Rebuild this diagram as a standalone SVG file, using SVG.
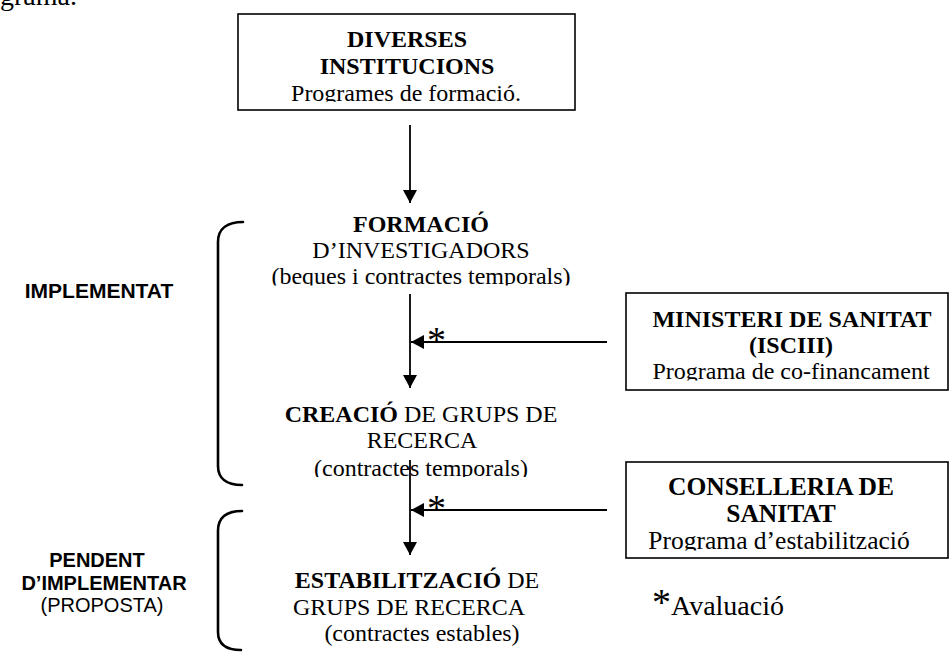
<svg xmlns="http://www.w3.org/2000/svg" width="951" height="652" viewBox="0 0 951 652">
<style>
.t{font-family:"Liberation Serif","Times New Roman",serif;font-size:24px;fill:#000;text-anchor:middle}
.b{font-weight:bold}
.s{font-family:"Liberation Sans",Arial,sans-serif;font-size:20px;fill:#000;text-anchor:middle}
.box{fill:#fff;stroke:#000;stroke-width:1.6}
.ln{stroke:#000;stroke-width:1.8;fill:none}
.br{stroke:#000;stroke-width:2.6;fill:none;stroke-linecap:round}
.ast{font-family:"Liberation Serif","Times New Roman",serif;font-size:38px;fill:#000}
</style>
<defs>
<marker id="ah" markerUnits="userSpaceOnUse" markerWidth="14" markerHeight="14" viewBox="0 0 14 14" refX="13" refY="7" orient="auto">
<path d="M0,0 L13,7 L0,14 Z" fill="#000"/>
</marker>
<clipPath id="c1"><rect x="230" y="10" width="360" height="91.8"/></clipPath>
<clipPath id="c2"><rect x="240" y="200" width="360" height="85.5"/></clipPath>
<clipPath id="c3"><rect x="620" y="290" width="331" height="90.5"/></clipPath>
<clipPath id="c4"><rect x="240" y="390" width="360" height="87"/></clipPath>
<clipPath id="c5"><rect x="620" y="460" width="331" height="90.5"/></clipPath>
</defs>

<text x="0" y="5" class="t" style="font-size:28px;text-anchor:start">grama.</text>

<g id="brackets">
<path class="br" d="M243,222 C228,222 218,228 218,242 L218,466 C218,478 226,485 242,485"/>
<path class="br" d="M242,511 C227,511 218,517 218,531 L218,632 C218,644 226,650 241,650"/>
</g>

<g id="label-implementat">
<text x="99" y="298" class="s b" style="font-size:21px">IMPLEMENTAT</text>
</g>
<g id="label-pendent">
<text x="97" y="567" class="s b">PENDENT</text>
<text x="104" y="590" class="s b">D’IMPLEMENTAR</text>
<text x="102" y="612" class="s">(PROPOSTA)</text>
</g>

<g id="diverses">
<rect class="box" x="238" y="14" width="337" height="96"/>
<text x="407" y="47" class="t b">DIVERSES</text>
<text x="407" y="73.5" class="t b">INSTITUCIONS</text>
<g clip-path="url(#c1)"><text x="406" y="100.5" class="t">Programes de formació.</text></g>
</g>

<g id="formacio">
<text x="421" y="232" class="t"><tspan class="b">FORMACIÓ</tspan></text>
<text x="421" y="258" class="t">D’INVESTIGADORS</text>
<g clip-path="url(#c2)"><text x="421" y="284" class="t">(beques i contractes temporals)</text></g>
</g>

<g id="ministeri">
<rect class="box" x="626" y="293" width="322" height="97"/>
<text x="792" y="327" class="t b">MINISTERI DE SANITAT</text>
<text x="791" y="353" class="t b">(ISCIII)</text>
<g clip-path="url(#c3)"><text x="791" y="379" class="t">Programa de co-financament</text></g>
</g>

<g id="creacio">
<text x="421" y="422" class="t"><tspan class="b">CREACIÓ</tspan> DE GRUPS DE</text>
<text x="422" y="448" class="t">RECERCA</text>
<g clip-path="url(#c4)"><text x="421" y="476" class="t">(contractes temporals)</text></g>
</g>

<g id="conselleria">
<rect class="box" x="626" y="462" width="322" height="96"/>
<text x="781" y="495" class="t b" style="font-size:25.5px">CONSELLERIA DE</text>
<text x="781" y="522" class="t b" style="font-size:25.5px">SANITAT</text>
<g clip-path="url(#c5)"><text x="779" y="549" class="t" style="font-size:25.5px">Programa d’estabilització</text></g>
</g>

<g id="estabilitzacio">
<text x="417" y="588" class="t"><tspan class="b">ESTABILITZACIÓ</tspan> DE</text>
<text x="409" y="615" class="t">GRUPS DE RECERCA</text>
<text x="422" y="641" class="t">(contractes estables)</text>
</g>

<g id="legend">
<text x="652" y="615" class="t" style="text-anchor:start;font-size:28px"><tspan style="font-size:38px">*</tspan>Avaluació</text>
</g>

<g id="connectors">
<line class="ln" x1="410" y1="125" x2="410" y2="203" marker-end="url(#ah)"/>
<line class="ln" x1="410" y1="294" x2="410" y2="388" marker-end="url(#ah)"/>
<line class="ln" x1="410" y1="460" x2="410" y2="555" marker-end="url(#ah)"/>
<line class="ln" x1="607" y1="342" x2="411" y2="342" marker-end="url(#ah)"/>
<line class="ln" x1="607" y1="510" x2="411" y2="510" marker-end="url(#ah)"/>
<text x="427" y="353" class="ast">*</text>
<text x="427" y="521" class="ast">*</text>
</g>
</svg>
